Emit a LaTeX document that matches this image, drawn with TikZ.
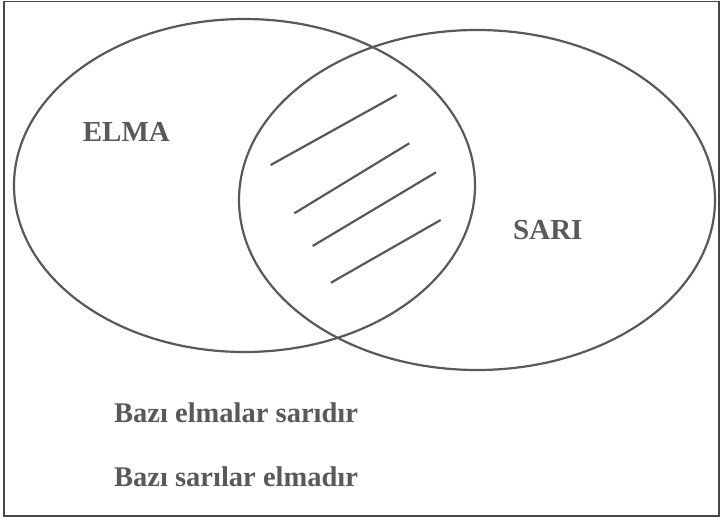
\documentclass[tikz,border=0pt]{standalone}
\usepackage{fontspec}
\setmainfont{Liberation Serif}
\usetikzlibrary{shapes.geometric}
\definecolor{ink}{HTML}{595959}
\begin{document}
\begin{tikzpicture}[x=1pt,y=-1pt,
  setshape/.style={ellipse,draw=ink,line width=2.2pt,inner sep=0pt},
  hatch/.style={draw=ink,line width=2.2pt},
  lbl/.style={text=ink,font=\bfseries\fontsize{29}{34}\selectfont,anchor=base west,inner sep=0pt},
  stmt/.style={text=ink,font=\bfseries\fontsize{28.5}{34}\selectfont,anchor=base west,inner sep=0pt}]
\useasboundingbox (0,0) rectangle (721,518);
\draw[draw=ink!80!black,line width=1.5pt] (4,1.5) rectangle (719,516);
\node[setshape,minimum width=461pt,minimum height=333pt] (elma) at (244.5,185.5) {};
\node[setshape,minimum width=476pt,minimum height=340pt] (sari) at (477,200) {};
\coordinate (h1a) at (270.7,165); \coordinate (h1b) at (396.7,95);
\coordinate (h2a) at (294.3,213.3); \coordinate (h2b) at (409.3,143.3);
\coordinate (h3a) at (312.7,246); \coordinate (h3b) at (436,172.3);
\coordinate (h4a) at (331,282.7); \coordinate (h4b) at (440.7,220);
\draw[hatch] (h1a) -- (h1b);
\draw[hatch] (h2a) -- (h2b);
\draw[hatch] (h3a) -- (h3b);
\draw[hatch] (h4a) -- (h4b);
\node[lbl] (elmalbl) at (82.7,141.7) {ELMA};
\node[lbl] (sarilbl) at (513,240) {SARI};
\node[stmt] (s1) at (114,422.7) {Bazı elmalar sarıdır};
\node[stmt] (s2) at (114,487) {Bazı sarılar elmadır};
\end{tikzpicture}
\end{document}
